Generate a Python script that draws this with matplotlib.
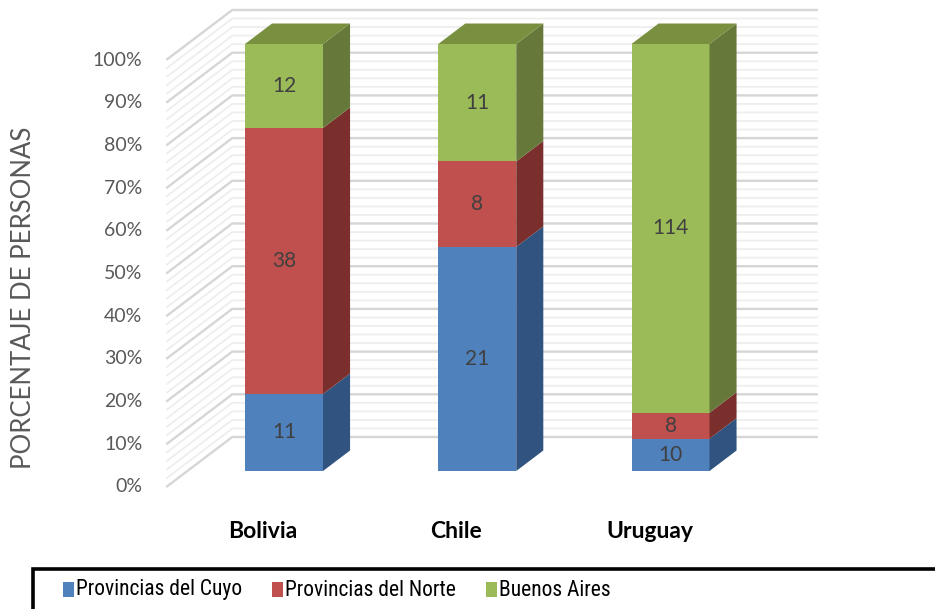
import numpy as np
import matplotlib
matplotlib.use('Agg')
import matplotlib.pyplot as plt
from matplotlib import font_manager
from matplotlib.patches import Polygon, Rectangle

# datos
paises = ['Bolivia', 'Chile', 'Uruguay']
series = ['Provincias del Cuyo', 'Provincias del Norte', 'Buenos Aires']
cuyo = [11, 21, 10]
norte = [38, 8, 8]
buenos_aires = [12, 11, 114]
yticks = list(range(0, 101, 10))

front = ['#4F81BD', '#C0504D', '#9BBB59']
side = ['#30547F', '#7B2F2D', '#66793A']
top = ['#3D6696', '#9A3C3A', '#78903F']

names = {f.name for f in font_manager.fontManager.ttflist}
main_font = next(n for n in ['Lato', 'Open Sans', 'DejaVu Sans'] if n in names)
narrow_font = next((n for n in ['Liberation Sans Narrow', 'Roboto Condensed', 'Open Sans Condensed']
                    if n in names), main_font)
plt.rcParams['font.family'] = [main_font, 'DejaVu Sans']

W, H = 935, 609
fig = plt.figure(figsize=(W / 100, H / 100), dpi=100)
ax = fig.add_axes([0, 0, 1, 1])
px_u, px_p = 193.25, 4.27   # pixels per category / per percent
x0, y0 = 284, 471
ax.set_xlim(-x0 / px_u, (W - x0) / px_u)
ax.set_ylim((y0 - H) / px_p, y0 / px_p)
ax.axis('off')

# vector de profundidad (pseudo 3D)
DX, DY = 66 / px_u, 50 / px_p
def proj(u, p, d):
    return u + d * DX, p + d * DY

D_FRONT, D_BACK, D_WALL = -0.32, 0.41, 0.68
X_LEFT, X_RIGHT = -0.5, 2.53

# rejilla: paredes lateral y trasera
for p in np.arange(0, 101, 2):
    major = p % 10 == 0
    col = '#D6D6D6' if major else '#EEEEEE'
    lw = 1.7 if major else 1.3
    z = 2 if major else 1
    a = proj(X_LEFT, p, D_FRONT)
    b = proj(X_LEFT, p, D_WALL)
    c = proj(X_RIGHT, p, D_WALL)
    ax.plot([a[0], b[0], c[0]], [a[1], b[1], c[1]], color=col, lw=lw, zorder=z,
            solid_capstyle='butt')

for p in yticks:
    ax.annotate(f'{p}%', xy=proj(X_LEFT, p, D_FRONT), xytext=(-24 * 0.72, 0),
                textcoords='offset points', ha='right', va='center',
                fontsize=14, color='#595959')

# barras apiladas al 100%
vals = np.array([cuyo, norte, buenos_aires], dtype=float)
pct = vals / vals.sum(axis=0) * 100
bottoms = np.vstack([np.zeros(3), np.cumsum(pct, axis=0)[:-1]])
bw = 78 / px_u

for i in range(len(paises)):
    xl, xr = i - bw / 2, i + bw / 2
    for s in range(len(series)):
        b0 = bottoms[s, i]
        b1 = b0 + pct[s, i]
        ax.add_patch(Rectangle((xl, b0), bw, pct[s, i], facecolor=front[s],
                               edgecolor='none', zorder=5))
        ax.add_patch(Polygon([proj(xr, b0, 0), proj(xr, b0, D_BACK),
                              proj(xr, b1, D_BACK), proj(xr, b1, 0)],
                             closed=True, facecolor=side[s], edgecolor='none', zorder=5))
        if s == len(series) - 1:
            ax.add_patch(Polygon([proj(xl, b1, 0), proj(xr, b1, 0),
                                  proj(xr, b1, D_BACK), proj(xl, b1, D_BACK)],
                                 closed=True, facecolor=top[s], edgecolor='none', zorder=5))
        ax.text(i, b0 + pct[s, i] / 2, f'{int(vals[s, i])}', ha='center', va='center',
                fontsize=15, color='#404040', zorder=6)
    ax.annotate(paises[i], xy=proj(i, 0, D_FRONT), xytext=(0, -45 * 0.72),
                textcoords='offset points', ha='center', va='center',
                fontsize=16.5, fontweight='bold', color='black')

fig.text(24 / W, 1 - 298 / H, 'PORCENTAJE DE PERSONAS', rotation=90,
         ha='center', va='center', fontsize=18.5, color='#595959')

# leyenda
fig.patches.append(Rectangle((33 / W, -0.05), 1.0, 0.05 + (H - 569) / H,
                             transform=fig.transFigure, facecolor='white',
                             edgecolor='black', linewidth=2.6, clip_on=False))
renderer = fig.canvas.get_renderer()
sx = 63
for s in range(len(series)):
    fig.patches.append(Rectangle((sx / W, 1 - 597 / H), 11 / W, 15 / H,
                                 transform=fig.transFigure, facecolor=front[s],
                                 edgecolor='none'))
    t = fig.text((sx + 13) / W, 1 - 590 / H, series[s], ha='left', va='center',
                 fontsize=15.5, family=[narrow_font, 'DejaVu Sans'], color='black')
    sx = t.get_window_extent(renderer).x1 + 30

fig.savefig('out.png', dpi=100)
